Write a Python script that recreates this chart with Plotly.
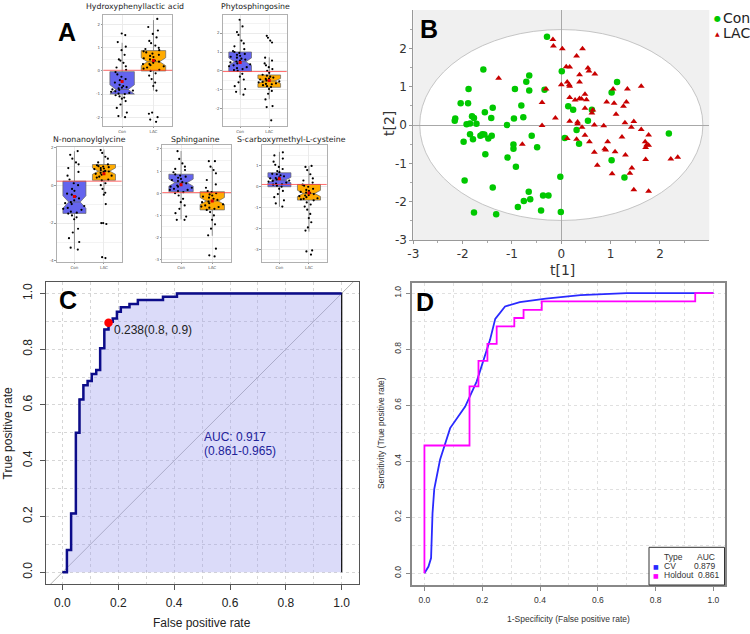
import plotly.graph_objects as go

W, H = 750, 634

# ---------------- Panel A: boxplots ----------------
metabolites = ["Hydroxyphenyllactic acid", "Phytosphingosine", "N-nonanoylglycine",
               "Sphinganine", "S-carboxymethyl-L-cysteine"]
groups = ["Con", "LAC"]
con_q1 = [-1.0, -0.02, -1.49, 0.07, 0.0]
con_med = [-0.8, 0.49, -0.89, 0.48, 0.32]
con_q3 = [-0.03, 1.0, 0.21, 0.86, 0.67]
con_lo = [-1.98, -1.26, -3.38, -1.18, -0.96]
con_hi = [1.22, 2.68, 1.79, 1.91, 1.67]
con_mean = [-0.46, 0.45, -0.6, 0.38, 0.38]
con_notch = [0.2, 0.2, 0.33, 0.16, 0.13]
lac_q1 = [0.0, -0.86, 0.26, -0.75, -0.64]
lac_med = [0.4, -0.53, 0.74, -0.35, -0.32]
lac_q3 = [0.88, -0.21, 1.09, 0.07, 0.11]
lac_lo = [-0.85, -1.49, -0.45, -1.92, -2.15]
lac_hi = [2.2, 0.72, 1.88, 1.19, 1.0]
lac_mean = [0.45, -0.5, 0.6, -0.35, -0.3]
lac_notch = [0.17, 0.13, 0.17, 0.16, 0.15]
ref_line = [0.03, -0.03, 0.21, 0.03, 0.11]
a_ticks = [[-2, -1, 0, 1, 2], [-2, -1, 0, 1, 2], [-4, -2, 0, 2],
           [-3, -2, -1, 0, 1, 2], [-3, -2, -1, 0, 1]]

con_points = [
    [1.62, 1.55, 1.25, 1.05, 0.9, 0.7, 0.5, 0.35, 0.2, 0.05, -0.05, -0.15, -0.25, -0.35, -0.45,
     -0.5, -0.6, -0.65, -0.7, -0.75, -0.8, -0.82, -0.85, -0.9, -0.95, -1.0, -1.05, -1.1, -1.15,
     -1.2, -1.3, -1.45, -1.6, -1.8, -1.95, -2.0, -0.72, -0.88, -0.98, -0.4, 0.15, 0.45],
    [2.7, 2.35, 2.05, 1.9, 1.6, 1.45, 1.3, 1.15, 1.05, 1.0, 0.95, 0.9, 0.8, 0.7, 0.6, 0.55, 0.5,
     0.45, 0.4, 0.3, 0.2, 0.1, 0.05, 0.0, -0.15, -0.3, -0.45, -0.6, -0.8, -0.95, -1.1, -1.25,
     0.85, 0.75, 0.65, 0.35, 0.25, 0.15],
    [1.8, 1.6, 1.4, 1.2, 1.1, 0.9, 0.7, 0.5, 0.3, 0.1, 0.0, -0.2, -0.3, -0.45, -0.6, -0.7, -0.8,
     -0.9, -1.0, -1.1, -1.2, -1.3, -1.4, -1.5, -1.6, -1.7, -1.8, -2.3, -2.5, -2.8, -3.0, -3.3, -3.4,
     -0.5, -0.95, -1.25, -1.45],
    [1.9, 1.55, 1.35, 1.2, 1.1, 1.05, 0.95, 0.85, 0.8, 0.7, 0.65, 0.6, 0.5, 0.45, 0.4, 0.35, 0.3,
     0.25, 0.2, 0.15, 0.1, 0.05, 0.0, -0.1, -0.25, -0.4, -0.55, -0.7, -0.9, -1.05, -1.2, -1.2,
     0.75, 0.55, 0.3, 0.15],
    [1.65, 1.5, 1.35, 1.2, 1.05, 0.95, 0.85, 0.75, 0.7, 0.6, 0.55, 0.5, 0.45, 0.4, 0.35, 0.3,
     0.25, 0.2, 0.15, 0.1, 0.05, 0.0, -0.1, -0.2, -0.35, -0.5, -0.65, -0.8, -0.95, 0.62, 0.42,
     0.28, 0.12],
]
lac_points = [
    [2.25, 1.9, 1.75, 1.6, 1.45, 1.3, 1.2, 1.1, 1.0, 0.95, 0.9, 0.85, 0.8, 0.7, 0.65, 0.6, 0.5,
     0.45, 0.4, 0.35, 0.3, 0.25, 0.2, 0.15, 0.1, 0.05, 0.0, -0.1, -0.2, -0.35, -0.5, -0.65, -0.85,
     -1.8, -1.85, -2.0, -2.1, -2.2, 0.55, 0.75, 0.3],
    [1.85, 1.75, 1.6, 1.5, 0.7, 0.55, 0.4, 0.3, 0.2, 0.1, 0.0, -0.1, -0.2, -0.25, -0.3, -0.35,
     -0.4, -0.45, -0.5, -0.55, -0.6, -0.65, -0.7, -0.75, -0.8, -0.85, -0.95, -1.05, -1.2, -1.5,
     -1.85, -1.9, -2.6, -0.42, -0.58, -0.68],
    [1.85, 1.7, 1.5, 1.4, 1.2, 1.1, 1.05, 1.0, 0.95, 0.9, 0.85, 0.8, 0.75, 0.7, 0.65, 0.6, 0.5,
     0.45, 0.4, 0.3, 0.25, 0.1, 0.0, -0.2, -0.4, -0.5, -1.0, -2.0, -2.0, -2.05, -3.8, -3.85,
     0.98, 0.88, 0.72, 0.55],
    [1.45, 1.45, 1.2, 1.05, 0.9, 0.6, 0.4, 0.25, 0.1, 0.05, 0.0, -0.05, -0.1, -0.15, -0.2, -0.3,
     -0.35, -0.4, -0.45, -0.5, -0.55, -0.6, -0.65, -0.7, -0.75, -0.85, -1.0, -1.2, -1.4, -1.6,
     -1.9, -2.5, -2.8, -2.85, -0.25, -0.38, -0.62],
    [1.0, 0.95, 0.8, 0.6, 0.4, 0.3, 0.2, 0.1, 0.05, 0.0, -0.1, -0.15, -0.2, -0.25, -0.3, -0.35,
     -0.4, -0.45, -0.5, -0.55, -0.6, -0.65, -0.75, -0.85, -0.95, -1.1, -1.3, -1.5, -1.7, -1.95,
     -2.1, -3.05, -3.1, -3.25, -0.28, -0.42, -0.58],
]

# ---------------- Panel B: score plot ----------------
con_t1 = [-0.29, -1.58, -0.65, -0.71, -1.88, -0.94, -0.65, -0.34, 0.01, 1.13, 1.02, -2.04, -1.89,
          -1.39, -0.81, 0.14, 0.24, 0.62, -1.55, -2.15, -2.16, -1.81, -1.77, -1.42, -0.96, -0.77,
          0.54, -1.92, -1.85, -1.72, -1.10, -1.85, -1.79, -1.64, -1.60, -1.56, -1.48, -1.41, -1.98,
          -0.60, 0.07, 0.31, 0.36, -0.97, -0.97, -0.49, 2.18, -1.54, -1.09, -0.92, 1.02, 1.28,
          -0.02, -1.96, -1.39, -0.66, -0.37, -0.26, -0.76, -0.63, -0.88, -0.41, -1.77, -1.32, -0.01]
con_t2 = [2.30, 1.45, 1.29, 1.13, 0.94, 0.94, 0.90, 0.92, 1.40, 1.12, 0.85, 0.57, 0.57, 0.45, 0.51,
          0.49, 0.40, 0.40, 0.33, 0.17, 0.11, 0.23, 0.18, 0.18, 0.17, 0.20, 0.11, 0.02, 0.04, 0.03,
          0.0, -0.24, -0.37, -0.28, -0.24, -0.25, -0.35, -0.28, -0.44, -0.28, -0.34, -0.13, -0.49,
          -0.51, -0.62, -0.58, -0.22, -0.76, -0.85, -1.09, -0.92, -1.37, -1.35, -1.45, -1.63,
          -1.74, -1.84, -1.84, -1.98, -1.94, -2.14, -2.23, -2.28, -2.33, -2.27]
lac_t1 = [-0.17, -0.16, 0.02, 0.43, 0.31, 0.10, 0.17, 0.54, 0.56, 0.68, 0.37, -1.27, 0.12, 0.16,
          0.0, -0.31, 0.37, 0.17, 1.05, 1.34, 1.62, 0.48, 0.17, 0.28, 0.37, 0.41, 0.51, -0.39, 0.92,
          1.07, 1.32, 1.26, 0.48, 0.64, 0.62, 1.11, -0.12, 0.17, 0.33, 0.33, 1.29, 1.47, -0.39, 0.67,
          0.86, 0.42, 1.42, 1.62, 0.12, 0.31, 0.48, 0.57, 1.23, 1.77, 0.94, 1.70, -0.79, 1.73, 1.77,
          1.71, 0.88, 0.90, 0.67, 1.09, 1.30, 1.71, 2.22, 2.36, 0.73, 1.43, 1.03, 1.39, 1.47, 1.77]
lac_t2 = [2.23, 2.06, 1.99, 1.99, 1.80, 1.52, 1.51, 1.49, 1.41, 1.33, 1.31, 1.22, 1.12, 1.05, 1.05,
          0.94, 1.12, 1.01, 0.94, 0.94, 1.01, 0.80, 0.72, 0.65, 0.69, 0.68, 0.66, 0.59, 0.60, 0.57,
          0.60, 0.49, 0.44, 0.39, 0.31, 0.28, 0.18, 0.10, 0.08, 0.03, 0.06, 0.09, -0.01, 0.0, -0.02,
          -0.06, -0.06, -0.12, -0.35, -0.37, -0.27, -0.44, -0.31, -0.26, -0.44, -0.44, -0.50, -0.52,
          -0.53, -0.59, -0.62, -0.65, -0.71, -0.70, -0.78, -0.90, -0.89, -0.84, -1.05, -1.12,
          -1.27, -1.26, -1.69, -1.73]
ellipse_a, ellipse_b = 2.87, 2.49
b_ticks = [-3, -2, -1, 0, 1, 2]

# ---------------- Panel C: ROC ----------------
roc_fpr = [0.0, 0.016, 0.031, 0.048, 0.061, 0.075, 0.09, 0.105, 0.121, 0.135, 0.15, 0.165,
           0.18, 0.195, 0.209, 0.24, 0.27, 0.36, 0.41, 1.0]
roc_tpr = [0.0, 0.08, 0.211, 0.5, 0.62, 0.671, 0.686, 0.711, 0.725, 0.803, 0.871, 0.898,
           0.91, 0.934, 0.95, 0.962, 0.976, 0.988, 1.0, 1.0]
best_fpr, best_tpr = 0.165, 0.895
best_label = "0.238(0.8, 0.9)"
auc_lines = ["AUC: 0.917", "(0.861-0.965)"]
unit_ticks = [0.0, 0.2, 0.4, 0.6, 0.8, 1.0]

# ---------------- Panel D: CV / holdout ROC ----------------
cv_fpr = [0.0, 0.014, 0.023, 0.028, 0.034, 0.054, 0.089, 0.141, 0.181, 0.227, 0.245, 0.279,
          0.33, 0.42, 0.54, 0.70, 1.0]
cv_tpr = [0.0, 0.024, 0.054, 0.214, 0.30, 0.405, 0.518, 0.595, 0.685, 0.833, 0.908, 0.952,
          0.968, 0.98, 0.993, 1.0, 1.0]
hold_fpr = [0.0, 0.156, 0.187, 0.218, 0.250, 0.311, 0.343, 0.406, 0.937, 1.0]
hold_tpr = [0.0, 0.456, 0.667, 0.758, 0.819, 0.881, 0.911, 0.940, 0.970, 1.0]
d_legend_types = ["CV", "Holdout"]
d_legend_auc = ["0.879", "0.861"]
d_colors = ["#2a2aff", "#ff00ff"]

# ---------------- helpers ----------------
def xd(a, b):
    return [a / W, b / W]

def yd(top, bottom):
    return [1 - bottom / H, 1 - top / H]

def px(x):
    return x / W

def py(y):
    return 1 - y / H

fig = go.Figure()
layout = dict(width=W, height=H, margin=dict(l=0, r=0, t=0, b=0, autoexpand=False),
              autosize=False, paper_bgcolor="white", plot_bgcolor="white", showlegend=False,
              boxmode="overlay", hovermode=False)
annotations = []
shapes = []

# ----- Panel A layout -----
a_boxes = [
    (103.3, 172.3, 15, 126, [-2.38, 2.42]),
    (222.7, 286.7, 15, 126, [-2.9, 2.95]),
    (56.7, 121.7, 146.7, 261.7, [-4.04, 2.03]),
    (162.3, 231.0, 145, 261.7, [-3.09, 2.18]),
    (261.7, 326.7, 145, 261.7, [-3.59, 2.0]),
]
a_titles = [(135, 6), (255, 6), (89, 140), (196, 140), (291, 140)]
con_fill = "#6464ee"
lac_fill = "#ffab00"

for i in range(5):
    n = i + 1
    xn = "x" if n == 1 else f"x{n}"
    yn = "y" if n == 1 else f"y{n}"
    x0, x1, t0, t1, yr = a_boxes[i]
    ticks = a_ticks[i]
    step = ticks[1] - ticks[0]
    minor_vals = [v + step / 2 for v in [ticks[0] - step] + ticks]
    layout["xaxis" if n == 1 else f"xaxis{n}"] = dict(
        domain=xd(x0, x1), anchor=yn, range=[-0.6, 1.6], tickvals=[0, 1], ticktext=groups,
        tickfont=dict(size=4, color="#555", family="DejaVu Sans"), showgrid=True,
        gridcolor="#ebebeb", gridwidth=1, zeroline=False, showline=True, mirror=True,
        linecolor="#b0b0b0", linewidth=0.8, ticks="outside", ticklen=1.5, tickcolor="#999",
        automargin=False)
    layout["yaxis" if n == 1 else f"yaxis{n}"] = dict(
        domain=yd(t0, t1), anchor=xn, range=yr, tickvals=ticks, ticktext=[str(v) for v in ticks],
        tickfont=dict(size=4, color="#555", family="DejaVu Sans"), showgrid=True,
        gridcolor="#ebebeb", gridwidth=1, zeroline=False, showline=True, mirror=True,
        linecolor="#b0b0b0", linewidth=0.8, ticks="outside", ticklen=1.5, tickcolor="#999",
        automargin=False,
        minor=dict(tickmode="array", tickvals=minor_vals, showgrid=True, gridcolor="#f3f3f3",
                   ticks=""))
    for g, (q1, med, q3, lo, hi, nt, fill) in enumerate([
            (con_q1, con_med, con_q3, con_lo, con_hi, con_notch, con_fill),
            (lac_q1, lac_med, lac_q3, lac_lo, lac_hi, lac_notch, lac_fill)]):
        fig.add_trace(go.Box(
            x=[g], q1=[q1[i]], median=[med[i]], q3=[q3[i]], lowerfence=[lo[i]],
            upperfence=[hi[i]], notchspan=[nt[i]], notched=True, notchwidth=0.25,
            orientation="v", width=0.78, whiskerwidth=0, fillcolor=fill,
            line=dict(color="#666", width=0.7), boxpoints=False, xaxis=xn, yaxis=yn))
    for g, pts in enumerate([con_points[i], lac_points[i]]):
        fig.add_trace(go.Box(
            x=[g] * len(pts), y=pts, boxpoints="all", jitter=1.0, pointpos=0, width=0.78,
            whiskerwidth=0, fillcolor="rgba(0,0,0,0)",
            line=dict(width=0, color="rgba(0,0,0,0)"),
            marker=dict(size=2.2, color="black"), xaxis=xn, yaxis=yn))
    fig.add_trace(go.Scatter(x=[0, 1], y=[con_mean[i], lac_mean[i]], mode="markers",
                             marker=dict(size=3, color="#e00000", symbol="square"),
                             xaxis=xn, yaxis=yn))
    shapes.append(dict(type="line", xref=f"{xn} domain", yref=yn, x0=0, x1=1,
                       y0=ref_line[i], y1=ref_line[i],
                       line=dict(color="rgba(255,60,60,0.75)", width=1), layer="above"))
    tx, ty = a_titles[i]
    annotations.append(dict(x=px(tx), y=py(ty), text=metabolites[i],
                            font=dict(size=7.8, color="#222", family="DejaVu Sans")))

# ----- Panel B -----
b_axis = dict(range=[-3, 3], tickvals=b_ticks, ticktext=[str(v) for v in b_ticks],
              tickfont=dict(size=12, color="#333", family="DejaVu Sans"),
              showgrid=False, zeroline=True, zerolinecolor="#a8a8a8", zerolinewidth=1,
              showline=True, linecolor="#999", linewidth=1, ticks="outside",
              ticklen=3, tickcolor="#999", automargin=False,
              minor=dict(tickmode="array", ticks="outside", ticklen=2, tickcolor="#aaa",
                         tickvals=[v + 0.5 for v in b_ticks]))
layout["xaxis6"] = dict(domain=xd(413.3, 709.3), anchor="y6", **b_axis)
layout["yaxis6"] = dict(domain=yd(10, 240), anchor="x6", **b_axis)
shapes.append(dict(type="rect", xref="x6 domain", yref="y6 domain", x0=0, x1=1, y0=0, y1=1,
                   fillcolor="#f0f0f0", line=dict(width=0), layer="below"))
shapes.append(dict(type="circle", xref="x6", yref="y6", x0=-ellipse_a, x1=ellipse_a,
                   y0=-ellipse_b, y1=ellipse_b, fillcolor="white",
                   line=dict(color="#b8b8b8", width=0.8), layer="below"))
fig.add_trace(go.Scatter(x=con_t1, y=con_t2, mode="markers", name="Con",
                         marker=dict(size=6.5, color="#00c800"), xaxis="x6", yaxis="y6"))
fig.add_trace(go.Scatter(x=lac_t1, y=lac_t2, mode="markers", name="LAC",
                         marker=dict(size=6, color="#c80000", symbol="triangle-up"),
                         xaxis="x6", yaxis="y6"))
annotations += [
    dict(x=px(562), y=py(269.5), text="t[1]", font=dict(size=14, color="#333", family="DejaVu Sans")),
    dict(x=px(389), y=py(124), text="t[2]", textangle=-90,
         font=dict(size=14, color="#333", family="DejaVu Sans")),
    dict(x=px(717), y=py(18), text="●", font=dict(size=8, color="#00c800", family="DejaVu Sans")),
    dict(x=px(717), y=py(33), text="▲", font=dict(size=6, color="#c80000", family="DejaVu Sans")),
    dict(x=px(721.5), y=py(18), text="Con", xanchor="left",
         font=dict(size=14, color="#222", family="DejaVu Sans")),
    dict(x=px(721.5), y=py(33), text="LAC", xanchor="left",
         font=dict(size=14, color="#222", family="DejaVu Sans")),
]

# ----- Panel C -----
c_font = dict(size=12, color="#222", family="Liberation Sans")
for ax, dom, rng, extra in [
        ("xaxis7", xd(45.7, 359.3), [-0.06, 1.063], dict(anchor="y7", ticklabelstandoff=3)),
        ("yaxis7", yd(281.7, 584), [-0.042, 1.042],
         dict(anchor="x7", tickangle=-90, ticklabelstandoff=3))]:
    layout[ax] = dict(domain=dom, range=rng, tickvals=unit_ticks,
                      ticktext=[f"{v:.1f}" for v in unit_ticks], tickfont=c_font,
                      showgrid=True, gridcolor="#d6d6d6", griddash="dot", gridwidth=1,
                      zeroline=False, showline=True, mirror=True, linecolor="#555",
                      linewidth=1, ticks="outside", ticklen=5, tickcolor="#555",
                      automargin=False,
                      minor=dict(tickmode="array", tickvals=[0.1, 0.3, 0.5, 0.7, 0.9],
                                 showgrid=True, gridcolor="#d6d6d6", griddash="dot", ticks=""),
                      **extra)
shapes.append(dict(type="line", xref="x7", yref="y7", x0=-0.1, y0=-0.1, x1=1.1, y1=1.1,
                   line=dict(color="#b4b4b4", width=1), layer="between"))
fig.add_trace(go.Scatter(x=roc_fpr + [roc_fpr[-1]], y=roc_tpr + [roc_tpr[0]], mode="lines",
                         line=dict(color="black", width=1.2, shape="hv"), fill="toself",
                         fillcolor="rgba(160,160,240,0.38)", xaxis="x7", yaxis="y7"))
fig.add_trace(go.Scatter(x=roc_fpr, y=roc_tpr, mode="lines",
                         line=dict(color="#0c0c8a", width=2.5, shape="hv"),
                         xaxis="x7", yaxis="y7"))
fig.add_trace(go.Scatter(x=[best_fpr], y=[best_tpr], mode="markers",
                         marker=dict(size=8.5, color="#ff0000"), xaxis="x7", yaxis="y7"))
annotations += [
    dict(x=px(112.5), y=py(329.5), text=best_label, xanchor="left", font=c_font),
    dict(x=px(202.5), y=py(436.7), text=auc_lines[0], xanchor="left",
         font=dict(size=12, color="#22229a", family="Liberation Sans")),
    dict(x=px(202.5), y=py(451), text=auc_lines[1], xanchor="left",
         font=dict(size=12, color="#22229a", family="Liberation Sans")),
    dict(x=px(202), y=py(623), text="False positive rate", font=c_font),
    dict(x=px(7.5), y=py(433), text="True positive rate", textangle=-90, font=c_font),
]

# ----- Panel D -----
d_font = dict(size=8.5, color="#333", family="Liberation Sans")
for ax, dom, rng, extra in [
        ("xaxis8", xd(412, 725), [-0.043, 1.04], dict(anchor="y8", ticklabelstandoff=2)),
        ("yaxis8", yd(282.7, 585), [-0.042, 1.037],
         dict(anchor="x8", tickangle=-90, ticklabelstandoff=2))]:
    layout[ax] = dict(domain=dom, range=rng, tickvals=unit_ticks,
                      ticktext=[f"{v:.1f}" for v in unit_ticks], tickfont=d_font,
                      showgrid=True, gridcolor="#e0e0e0", griddash="dot", gridwidth=1,
                      zeroline=False, showline=True, mirror=True, linecolor="#888",
                      linewidth=1.5, ticks="outside", ticklen=4, tickcolor="#888",
                      automargin=False,
                      minor=dict(tickmode="array", tickvals=[0.1, 0.3, 0.5, 0.7, 0.9],
                                 showgrid=True, gridcolor="#e0e0e0", griddash="dot", ticks=""),
                      **extra)
fig.add_trace(go.Scatter(x=cv_fpr, y=cv_tpr, mode="lines",
                         line=dict(color=d_colors[0], width=1.8), xaxis="x8", yaxis="y8"))
fig.add_trace(go.Scatter(x=hold_fpr, y=hold_tpr, mode="lines",
                         line=dict(color=d_colors[1], width=1.8, shape="vh"),
                         xaxis="x8", yaxis="y8"))
shapes.append(dict(type="rect", xref="paper", yref="paper", x0=px(649), x1=px(724.5),
                   y0=py(585), y1=py(547.3), fillcolor="white",
                   line=dict(color="#333", width=1), layer="above"))
annotations += [
    dict(x=px(663), y=py(556.7), text="Type", xanchor="left", font=d_font),
    dict(x=px(716), y=py(556.7), text="AUC", xanchor="right", font=d_font),
    dict(x=px(568), y=py(619), text="1-Specificity (False positive rate)", font=d_font),
    dict(x=px(381), y=py(433), text="Sensitivity (True positive rate)", textangle=-90,
         font=d_font),
]
for k, (lab, auc) in enumerate(zip(d_legend_types, d_legend_auc)):
    yy = 566 + k * 9.3
    annotations += [
        dict(x=px(656), y=py(yy), text="■", font=dict(size=6, color=d_colors[k],
                                                       family="DejaVu Sans")),
        dict(x=px(663), y=py(yy), text=lab, xanchor="left", font=d_font),
        dict(x=px(717 + 3.5 * k), y=py(yy), text=auc, xanchor="right", font=d_font),
    ]

# ----- Panel letters -----
for lab, lx, ly in [("A", 67, 32), ("B", 428.5, 29), ("C", 68, 300), ("D", 425, 302)]:
    annotations.append(dict(x=px(lx), y=py(ly), text=f"<b>{lab}</b>",
                            font=dict(size=25, color="black", family="Liberation Sans")))

for a in annotations:
    a.setdefault("xref", "paper")
    a.setdefault("yref", "paper")
    a.setdefault("showarrow", False)
    a.setdefault("xanchor", "center")
    a.setdefault("yanchor", "middle")
    a.setdefault("borderpad", 0)

layout["annotations"] = annotations
layout["shapes"] = shapes
fig.update_layout(**layout)
fig.write_html("out.html", config={"displayModeBar": False},
               post_script="document.body.style.margin='0';document.body.style.overflow='hidden';")
